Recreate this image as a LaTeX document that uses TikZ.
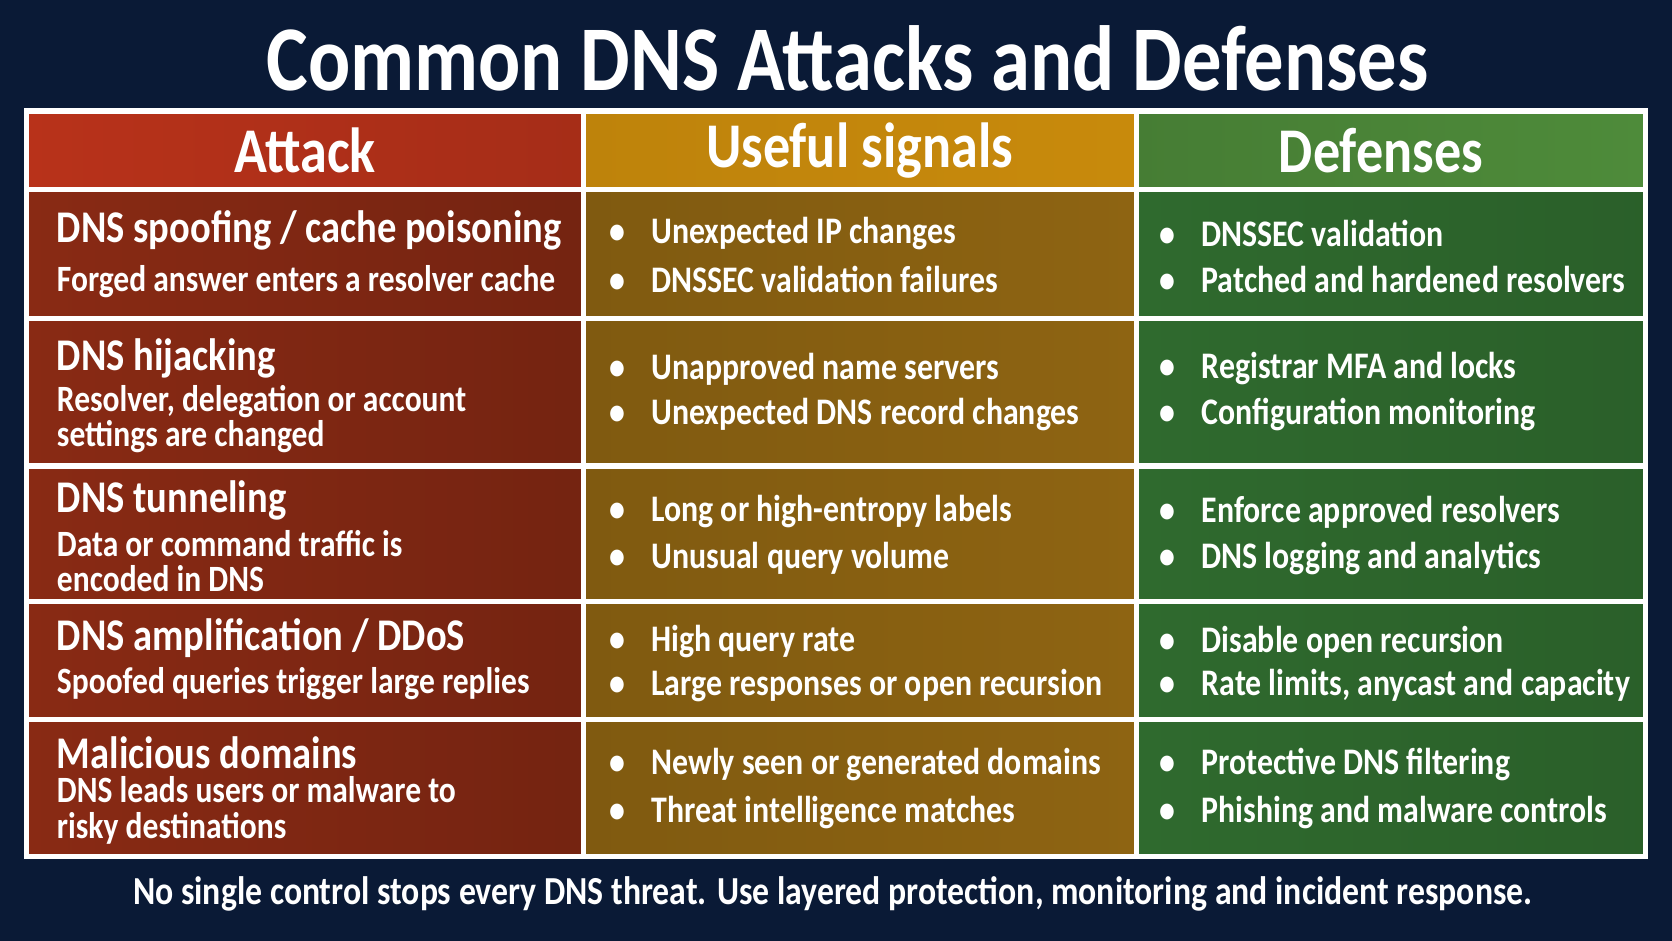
\documentclass[tikz,border=0pt]{standalone}
\usepackage{fontspec}
\setmainfont{Carlito}[FakeStretch=0.85]
\definecolor{navy}{HTML}{0A1A36}
\definecolor{atkhead}{HTML}{B8321A}
\definecolor{atkbody}{HTML}{892A14}
\definecolor{sighead}{HTML}{C88A0C}
\definecolor{sigbody}{HTML}{8E6412}
\definecolor{defhead}{HTML}{4E8B3A}
\definecolor{defbody}{HTML}{2F6A2E}
\begin{document}
\begin{tikzpicture}[
    headtext/.style={white, font=\bfseries\fontsize{17}{19}\selectfont},
    celltitle/.style={white, anchor=west, font=\bfseries\fontsize{12.1}{14}\selectfont},
    cellsub/.style={white, anchor=west, align=left, font=\bfseries\fontsize{9.9}{9.4}\selectfont},
    bullet/.style={white, anchor=west, font=\bfseries\fontsize{10}{12}\selectfont},
    grid/.style={white, line width=1.4pt}]
  \fill[navy] (0,0) rectangle (15.68,8.82);
  \useasboundingbox (0,0) rectangle (15.68,8.82);

  \node[white, font=\bfseries\fontsize{24.7}{27}\selectfont] (title) at (7.95,8.27) {Common DNS Attacks and Defenses};

  % header and body fills
  \shade[left color=atkhead, right color=atkhead!90!black] (0.25,7.04) rectangle (5.47,7.78);
  \shade[left color=sighead!95!black, right color=sighead] (5.47,7.04) rectangle (10.66,7.78);
  \shade[left color=defhead!90!black, right color=defhead] (10.66,7.04) rectangle (15.43,7.78);
  \shade[left color=atkbody, right color=atkbody!85!black] (0.25,0.79) rectangle (5.47,7.04);
  \shade[left color=sigbody!90!black, right color=sigbody] (5.47,0.79) rectangle (10.66,7.04);
  \shade[left color=defbody, right color=defbody!90!black] (10.66,0.79) rectangle (15.43,7.04);

  % grid
  \draw[grid] (0.25,0.79) rectangle (15.43,7.78);
  \foreach \x in {5.47,10.66} \draw[grid] (\x,0.79) -- (\x,7.78);
  \foreach \y in {7.04,5.83,4.45,3.18,2.07} \draw[grid] (0.25,\y) -- (15.43,\y);

  \node[headtext] (hAttack) at (2.86,7.41) {Attack};
  \node[headtext] (hSignals) at (8.06,7.41) {Useful signals};
  \node[headtext] (hDefenses) at (12.95,7.41) {Defenses};

  % attack column
  \node[celltitle] (t1) at (0.41,6.66) {DNS spoofing / cache poisoning};
  \node[cellsub] (s1) at (0.41,6.18) {Forged answer enters a resolver cache};
  \node[celltitle] (t2) at (0.41,5.46) {DNS hijacking};
  \node[cellsub] (s2) at (0.41,4.89) {Resolver, delegation or account\\settings are changed};
  \node[celltitle] (t3) at (0.41,4.13) {DNS tunneling};
  \node[cellsub] (s3) at (0.41,3.56) {Data or command traffic is\\encoded in DNS};
  \node[celltitle] (t4) at (0.41,2.84) {DNS amplification / DDoS};
  \node[cellsub] (s4) at (0.41,2.41) {Spoofed queries trigger large replies};
  \node[celltitle] (t5) at (0.41,1.76) {Malicious domains};
  \node[cellsub] (s5) at (0.41,1.22) {DNS leads users or malware to\\risky destinations};

  % signals column
  \foreach \n/\y/\txt in {a/6.63/Unexpected IP changes, b/6.20/DNSSEC validation failures,
      c/5.36/Unapproved name servers, d/4.93/Unexpected DNS record changes,
      e/4.02/Long or high-entropy labels, f/3.58/Unusual query volume,
      g/2.80/High query rate, h/2.39/Large responses or open recursion,
      i/1.65/Newly seen or generated domains, j/1.20/Threat intelligence matches}
    \node[bullet] (sig\n) at (5.59,\y) {\textbullet\hspace{0.7em}\txt};

  % defenses column
  \foreach \n/\y/\txt in {a/6.63/DNSSEC validation, b/6.20/Patched and hardened resolvers,
      c/5.36/Registrar MFA and locks, d/4.93/Configuration monitoring,
      e/4.02/Enforce approved resolvers, f/3.58/DNS logging and analytics,
      g/2.80/Disable open recursion, h/2.39/{Rate limits, anycast and capacity},
      i/1.65/Protective DNS filtering, j/1.20/Phishing and malware controls}
    \node[bullet] (def\n) at (10.75,\y) {\textbullet\hspace{0.7em}\txt};

  \node[white, font=\bfseries\fontsize{10.6}{13}\selectfont] (footer) at (7.81,0.44) {No single control stops every DNS threat. Use layered protection, monitoring and incident response.};
\end{tikzpicture}
\end{document}
